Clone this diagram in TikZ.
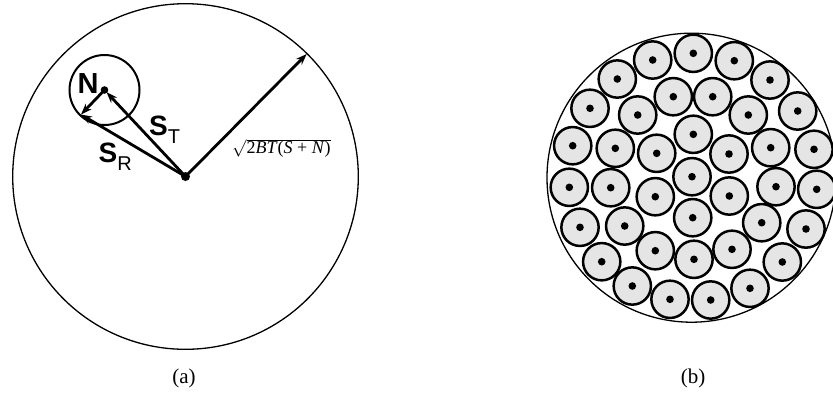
\documentclass[tikz,border=0pt]{standalone}
\usepackage{fontspec}
\setmainfont{Liberation Serif}
\newfontfamily\arialf{Liberation Sans}
\usetikzlibrary{arrows.meta}
\begin{document}
\begin{tikzpicture}[x=1pt,y=-1pt,
  outline/.style={draw, circle, line width=1.3pt, inner sep=0pt},
  vec/.style={line width=2.8pt, -{Stealth[length=11pt,width=8pt]}},
  cell/.style={draw, circle, line width=2.5pt, fill=black!10, minimum size=37.3pt, inner sep=0pt},
  lbl/.style={inner sep=0pt, anchor=base west},
  captext/.style={font=\fontsize{21}{23}\selectfont}
]
\useasboundingbox (0,0) rectangle (833,400);
% ---------- (a)
\coordinate (O) at (185.5,176.5);
\coordinate (Nc) at (104.5,90);
\coordinate (P) at (81,114.5);
\coordinate (R) at (306.7,54);
\node[outline, minimum size=345.6pt] (big) at (O) {};
\node[outline, line width=2pt, minimum size=70pt] (small) at (Nc) {};
\draw[vec] (O) -- (R);
\draw[vec, shorten >=3pt] (O) -- (Nc);
\draw[vec] (O) -- (P);
\draw[vec] (Nc) -- (P);
\fill (O) circle[radius=4.5pt];
\fill (Nc) circle[radius=3.8pt];
\node[lbl] (labN) at (77.5,93) {\arialf\bfseries\fontsize{29}{29}\selectfont N};
\node[lbl] (labST) at (149,135.5) {\arialf\fontsize{28}{28}\selectfont\bfseries S\raisebox{-8pt}{\mdseries\fontsize{20}{20}\selectfont T}};
\node[lbl] (labSR) at (98.5,162) {\arialf\fontsize{28}{28}\selectfont\bfseries S\raisebox{-8pt}{\mdseries\fontsize{20}{20}\selectfont R}};
\node[lbl] (labRad) at (232,153.5) {\fontsize{18}{20}\selectfont$\sqrt{\hbox{2\textit{BT}(\textit{S} + \textit{N})}}$};
\node[captext] (capa) at (184,378) {(a)};
% ---------- (b)
\begin{scope}
\clip (0,0) rectangle (833,400);
\node[outline, minimum size=289pt] (big2) at (691.5,177.7) {};
\foreach \x/\y [count=\i] in {
 693.3/53.3, 652.7/60, 734.3/60.7, 617.3/79, 770/80, 673.3/96.7, 712.7/96.7,
 590/108.3, 637.7/115, 748.3/115, 797.7/111, 693.3/134.3, 572.7/145.7,
 615.3/148.3, 656.7/153.3, 729/154, 770.7/147.7, 814/149.3, 692/176.7,
 569.3/187.3, 610.7/187.7, 655.3/196.7, 729.3/196, 776/186.7, 816.7/189.3,
 692.7/217.7, 580/227.3, 624.7/226, 761.7/222.7, 806/229, 601.7/261.7,
 655.3/250.7, 694/259.3, 732/249.3, 782.3/262, 632.3/286, 670/299.3,
 710.7/300, 750/288.3}
{
  \node[cell] (c\i) at (\x,\y) {};
  \fill (c\i.center) circle[radius=3.8pt];
}
\end{scope}
\node[captext] (capb) at (693,378) {(b)};
\end{tikzpicture}
\end{document}
